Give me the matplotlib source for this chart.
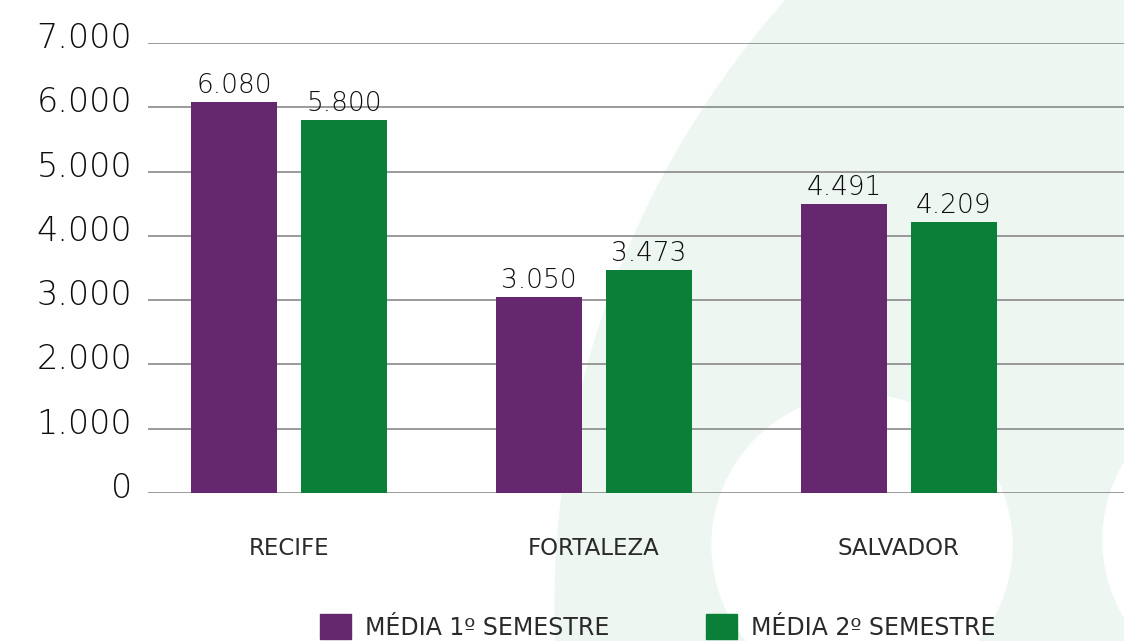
import numpy as np
import matplotlib
matplotlib.use("Agg")
import matplotlib.pyplot as plt
from matplotlib.patches import Circle, Patch
from matplotlib.transforms import ScaledTranslation

# data
cities = ["RECIFE", "FORTALEZA", "SALVADOR"]
sem1 = [6080, 3050, 4491]
sem2 = [5800, 3473, 4209]
series_names = ["MÉDIA 1º SEMESTRE", "MÉDIA 2º SEMESTRE"]
yticks = [0, 1000, 2000, 3000, 4000, 5000, 6000, 7000]

PURPLE = "#65276e"
GREEN = "#0a7f37"
TEXT = "#2a2a2a"
THIN = "#0d0d0d"


def fmt(v):
    return f"{v:,}".replace(",", ".")


plt.rcParams["font.family"] = ["DejaVu Sans"]

fig = plt.figure(figsize=(11.24, 6.41), dpi=100)

# background decoration (pixel coords), kept behind the axes
bg = "#eef6f2"
fig.patches.append(Circle((1470, 33), 915, transform=None, color=bg, zorder=-2))
fig.patches.append(Circle((862, 96), 150, transform=None, color="white", zorder=-1))
fig.patches.append(Circle((1255, 101), 152, transform=None, color="white", zorder=-1))

ax = fig.add_axes([148 / 1124, 1 - 493 / 641, 1 - 148 / 1124, 450 / 641])
ax.set_facecolor("none")

x = np.arange(len(cities))
w = 0.282
off = 0.180
b1 = ax.bar(x - off, sem1, w, color=PURPLE, zorder=3)
b2 = ax.bar(x + off, sem2, w, color=GREEN, zorder=3)

ax.bar_label(b1, labels=[fmt(v) for v in sem1], padding=3, fontsize=19,
             color=THIN, fontweight="light")
ax.bar_label(b2, labels=[fmt(v) for v in sem2], padding=3, fontsize=19,
             color=THIN, fontweight="light")

ax.set_xlim(-0.462, 2.738)
ax.set_ylim(0, 7000)
ax.set_yticks(yticks, [fmt(v) for v in yticks])
ax.set_xticks(x, cities)
ax.tick_params(axis="y", length=0, pad=11.5, labelsize=24, labelcolor=THIN)
ax.tick_params(axis="x", length=0, pad=32, labelsize=16.5, labelcolor=TEXT)
for lab in ax.get_yticklabels():
    lab.set_fontweight("light")
    lab.set_transform(lab.get_transform() + ScaledTranslation(0, 0.08, fig.dpi_scale_trans))

ax.grid(axis="y", color="#808080", linewidth=1.1, zorder=1)
ax.set_axisbelow(True)
for s in ax.spines.values():
    s.set_visible(False)

handles = [Patch(color=PURPLE), Patch(color=GREEN)]
fig.legend(handles, series_names, loc="center left",
           bbox_to_anchor=(320 / 1124, 1 - 627 / 641), ncol=2, frameon=False,
           fontsize=17, handlelength=1.31, handleheight=1.23, handletextpad=0.6,
           columnspacing=4.07, borderpad=0, borderaxespad=0, labelcolor=TEXT)

fig.savefig("out.png", dpi=100)
